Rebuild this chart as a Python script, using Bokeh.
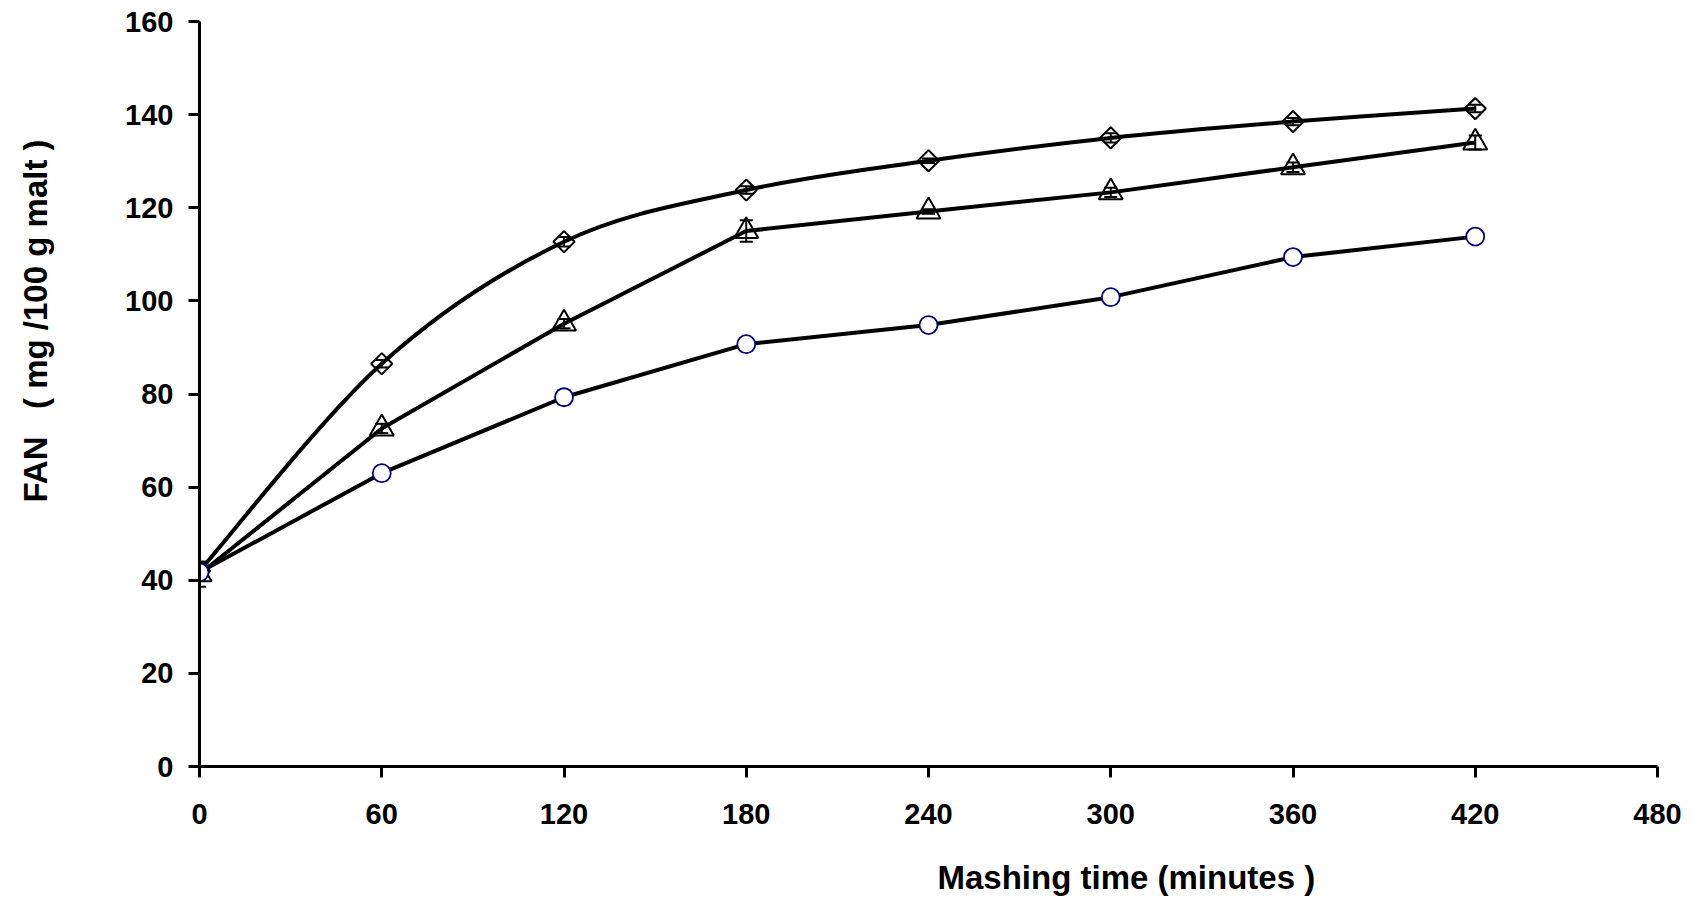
import math
from bokeh.plotting import figure
from bokeh.models import ColumnDataSource, Whisker, TeeHead, FixedTicker, Title
from bokeh.embed import file_html
from bokeh.resources import INLINE

# ---- data ----
time_min = [0, 60, 120, 180, 240, 300, 360, 420]
fan_diamond = [42.0, 86.5, 112.7, 123.8, 130.1, 135.0, 138.5, 141.3]
fan_triangle = [41.3, 72.6, 95.1, 115.0, 119.2, 123.3, 128.7, 134.0]
fan_circle = [41.7, 63.0, 79.3, 90.7, 94.8, 100.8, 109.4, 113.8]
err_diamond = [2.0, 0.8, 1.0, 0.8, 0.5, 1.0, 0.8, 0.8]
err_triangle = [2.7, 1.0, 1.0, 2.3, 0.5, 1.0, 1.0, 1.5]
err_circle = [1.5, 0.6, 1.5, 0.4, 0.8, 0.6, 0.4, 0.6]
x_ticks = [0, 60, 120, 180, 240, 300, 360, 420, 480]
y_ticks = [0, 20, 40, 60, 80, 100, 120, 140, 160]
x_title = "Mashing time (minutes )"
y_title = "FAN\u00a0\u00a0\u00a0( mg /100 g malt )"

FONT = "Liberation Sans"

p = figure(frame_width=1458, frame_height=745, x_range=(0, 480), y_range=(0, 160),
           min_border_left=199, min_border_right=28, min_border_top=21, min_border_bottom=120,
           output_backend="svg", toolbar_location=None)
p.outline_line_color = None
p.xgrid.visible = False
p.ygrid.visible = False
p.background_fill_color = "white"
p.border_fill_color = "white"

for ax, ticks, standoff in ((p.xaxis[0], x_ticks, 26), (p.yaxis[0], y_ticks, 15)):
    ax.ticker = FixedTicker(ticks=ticks)
    ax.axis_line_width = 3
    ax.axis_line_color = "black"
    ax.major_tick_line_width = 3
    ax.major_tick_line_color = "black"
    ax.major_tick_out = 11
    ax.major_tick_in = 0
    ax.minor_tick_line_color = None
    ax.major_label_text_font = FONT
    ax.major_label_text_font_style = "bold"
    ax.major_label_text_font_size = "29px"
    ax.major_label_text_color = "black"
    ax.major_label_standoff = standoff
    # blank spacer label, pushes the axis title further out
    ax.axis_label = "\u00a0"
    ax.axis_label_text_font_size = "10px"

p.xaxis[0].axis_label_standoff = 11
p.yaxis[0].axis_label_standoff = 50


def smooth_path(xs, ys):
    """Bezier segments through the points (spreadsheet-style smoothed line)."""
    n = len(xs)
    seg = dict(x0=[], y0=[], x1=[], y1=[], cx0=[], cy0=[], cx1=[], cy1=[])
    for i in range(n - 1):
        i0 = max(i - 1, 0)
        i3 = min(i + 2, n - 1)
        seg["x0"].append(xs[i]); seg["y0"].append(ys[i])
        seg["x1"].append(xs[i + 1]); seg["y1"].append(ys[i + 1])
        seg["cx0"].append(xs[i] + (xs[i + 1] - xs[i0]) / 6.0)
        seg["cy0"].append(ys[i] + (ys[i + 1] - ys[i0]) / 6.0)
        seg["cx1"].append(xs[i + 1] - (xs[i3] - xs[i]) / 6.0)
        seg["cy1"].append(ys[i + 1] - (ys[i3] - ys[i]) / 6.0)
    return ColumnDataSource(seg)


LW = 4
# lines
p.bezier(x0="x0", y0="y0", x1="x1", y1="y1", cx0="cx0", cy0="cy0", cx1="cx1", cy1="cy1",
         source=smooth_path(time_min, fan_diamond), line_color="black", line_width=LW)
p.line(time_min, fan_triangle, line_color="black", line_width=LW)
p.line(time_min, fan_circle, line_color="black", line_width=LW)

# markers
p.scatter(time_min, fan_diamond, marker="square", size=15, angle=math.pi / 4, fill_color=None,
          line_color="black", line_width=2)
p.scatter(time_min, fan_triangle, marker="triangle", size=24, fill_color=None,
          line_color="black", line_width=2)
p.scatter(time_min, fan_circle, marker="circle", size=18, fill_color="white",
          line_color="#000080", line_width=1.8)

# error bars
for vals, errs in ((fan_diamond, err_diamond), (fan_triangle, err_triangle), (fan_circle, err_circle)):
    src = ColumnDataSource(dict(x=time_min,
                                upper=[v + e for v, e in zip(vals, errs)],
                                lower=[v - e for v, e in zip(vals, errs)]))
    w = Whisker(base="x", upper="upper", lower="lower", source=src,
                line_color="black", line_width=2,
                upper_head=TeeHead(size=13, line_width=2, line_color="black"),
                lower_head=TeeHead(size=13, line_width=2, line_color="black"))
    p.add_layout(w)

# axis titles
tx = Title(text=x_title, align="left", offset=738, text_font=FONT, text_font_style="bold",
           text_font_size="33px", text_color="black")
p.add_layout(tx, "below")
ty = Title(text=y_title, align="left", offset=264, text_font=FONT, text_font_style="bold",
           text_font_size="33px", text_color="black")
p.add_layout(ty, "left")

open("out.html", "w").write(file_html(p, INLINE))
